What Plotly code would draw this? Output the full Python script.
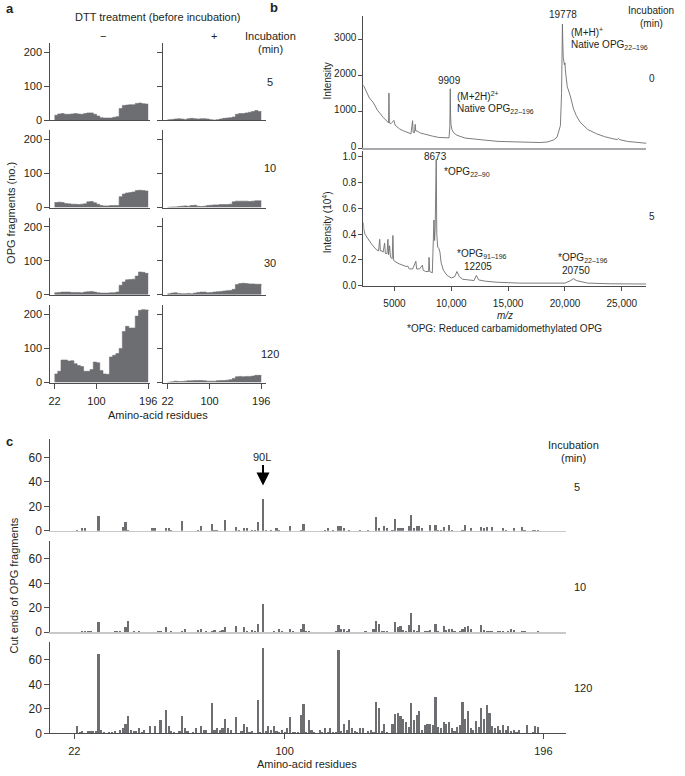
import plotly.graph_objects as go

W, H = 685, 776
FONT = "Liberation Sans, Arial, Helvetica, sans-serif"
TXT = "#231f20"
FILL = "#6d6e71"
AX = "#4d4d4f"

# ---------------- Panel a data (OPG fragments, step profile) ----------------
a_res = [22, 28, 34, 40, 46, 52, 58, 64, 70, 76, 82, 88, 94, 100, 106,
         112, 118, 124, 130, 136, 142, 148, 154, 160, 166, 172, 178, 184, 190, 196]
a_minus_5 = [15, 19, 20, 18, 18, 19, 20, 19, 18, 20, 22, 22, 18, 13, 8,
             7, 7, 7, 9, 11, 35, 44, 45, 46, 46, 50, 51, 49, 48, 48]
a_plus_5 = [2, 3, 4, 5, 4, 3, 5, 6, 5, 4, 5, 5, 4, 2, 1,
            2, 4, 6, 7, 8, 10, 18, 20, 20, 22, 24, 26, 29, 26, 25]
a_minus_10 = [15, 16, 15, 12, 11, 10, 10, 9, 10, 11, 17, 18, 14, 10, 6,
              5, 5, 6, 6, 6, 32, 40, 43, 44, 46, 50, 51, 50, 49, 49]
a_plus_10 = [1, 2, 2, 3, 4, 5, 4, 6, 7, 4, 3, 4, 6, 7, 8,
             8, 9, 9, 9, 10, 17, 19, 19, 19, 19, 18, 19, 20, 20, 20]
a_minus_30 = [6, 7, 8, 8, 8, 7, 7, 7, 6, 8, 9, 10, 8, 6, 5,
              5, 5, 6, 6, 8, 28, 38, 44, 45, 46, 55, 67, 66, 63, 62]
a_plus_30 = [3, 5, 6, 4, 3, 3, 4, 3, 5, 7, 8, 8, 6, 7, 8,
             9, 10, 11, 12, 13, 16, 30, 33, 34, 33, 32, 32, 31, 31, 28]
a_minus_120 = [25, 33, 66, 66, 63, 64, 55, 50, 47, 33, 33, 38, 60, 58, 35,
               25, 24, 75, 80, 85, 100, 150, 165, 160, 160, 195, 212, 214, 213, 210]
a_plus_120 = [1, 2, 4, 3, 3, 4, 5, 5, 6, 6, 6, 5, 4, 4, 4,
              5, 6, 6, 7, 8, 12, 17, 18, 17, 18, 18, 19, 21, 21, 20]
a_times = ["5", "10", "30", "120"]

# ---------------- Panel b data (MALDI spectra) ----------------
spec0_mz = [2260, 2500, 2800, 3127, 3500, 3994, 4200, 4427, 4480, 4514, 4550, 4700, 4948, 5050,
            5433, 5800, 6100, 6448, 6595, 6640, 6760, 6820, 6870, 7025, 7300, 7700, 8329, 8900,
            9482, 9800, 9870, 9909, 9935, 9970, 10050, 10200, 10500, 11216, 12000, 13000, 14105,
            15000, 16000, 17000, 17800, 18440, 19000, 19305, 19600, 19700, 19760, 19778, 19810,
            19850, 19900, 19950, 20000, 20050, 20200, 20467, 20754, 21000, 21334, 22000, 22780,
            23500, 24222, 24600, 24700, 24800, 25500, 26500, 27170]
spec0_int = [1740, 1560, 1380, 1264, 1050, 855, 790, 720, 700, 1520, 700, 680, 770, 640,
             537, 480, 450, 400, 760, 440, 430, 660, 480, 470, 420, 380, 338, 300,
             283, 290, 600, 1640, 950, 650, 520, 430, 360, 283, 250, 225, 191,
             180, 165, 155, 160, 174, 230, 310, 627, 1500, 3000, 3420, 2900,
             2500, 2350, 2300, 2350, 2100, 1700, 1444, 1082, 900, 720, 520, 400,
             320, 264, 240, 275, 240, 190, 160, 140]

spec5_mz = [2260, 2300, 2400, 2600, 2850, 3100, 3400, 3600, 3700, 3760, 3900, 4000, 4130, 4200,
            4350, 4420, 4480, 4570, 4650, 4800, 4860, 4920, 5000, 5400, 6000, 6200, 6300, 6600,
            6880, 6950, 7200, 7460, 7520, 7750, 8000, 8040, 8100, 8330, 8470, 8530, 8580, 8673,
            8720, 8800, 8900, 9000, 9100, 9300, 9630, 10000, 10300, 10500, 10700, 11000, 12000,
            12205, 12400, 13000, 14000, 16000, 18000, 20000, 20500, 20750, 21000, 22000, 24000, 27170]
spec5_int = [0.49, 0.44, 0.40, 0.37, 0.34, 0.31, 0.28, 0.27, 0.36, 0.27, 0.27, 0.26, 0.33, 0.25,
             0.25, 0.36, 0.24, 0.31, 0.22, 0.21, 0.39, 0.20, 0.19, 0.17, 0.15, 0.15, 0.13, 0.13,
             0.19, 0.13, 0.13, 0.16, 0.12, 0.11, 0.11, 0.22, 0.11, 0.10, 0.51, 0.35, 0.45, 0.98,
             0.40, 0.30, 0.29, 0.26, 0.18, 0.12, 0.08, 0.06, 0.07, 0.11, 0.07, 0.05, 0.04,
             0.08, 0.045, 0.035, 0.027, 0.02, 0.018, 0.02, 0.04, 0.055, 0.04, 0.02, 0.015, 0.013]

mz_ticks = [5000, 10000, 15000, 20000, 25000]
mz_ticktext = ["5000", "10,000", "15,000", "20,000", "25,000"]

# ---------------- Panel c data (cut ends) ----------------
c5_res = [23, 25, 26, 31, 40, 41, 42, 51, 52, 56, 57, 58, 62, 68, 69, 73, 74, 75, 78, 82,
          83, 85, 86, 88, 89, 90, 92, 93, 95, 97, 98, 102, 106, 107, 115, 116, 118, 120, 121, 122,
          124, 128, 131, 134, 135, 137, 138, 140, 141, 142, 143, 144, 146, 147, 148, 149, 150, 151, 154, 156,
          157, 158, 159, 161, 162, 166, 167, 169, 173, 174, 175, 177, 181, 182, 185, 188, 189, 192, 193, 194]
c5_cnt = [1, 2, 2, 12, 3, 7, 1, 2, 2, 2, 2, 1, 8, 1, 4, 6, 1, 1, 9, 3,
          1, 2, 2, 1, 1, 7, 26, 1, 1, 2, 1, 4, 1, 6, 1, 2, 1, 4, 4, 2,
          1, 1, 1, 11, 2, 4, 2, 1, 10, 2, 2, 2, 4, 13, 2, 4, 4, 2, 5, 5,
          1, 1, 3, 5, 1, 1, 5, 2, 3, 2, 3, 3, 2, 1, 2, 3, 1, 1, 1, 1]

c10_res = [25, 26, 27, 28, 31, 37, 38, 39, 41, 42, 44, 46, 53, 54, 56, 58, 62, 63, 68, 69,
           71, 73, 74, 76, 77, 78, 82, 85, 86, 88, 89, 90, 92, 96, 98, 99, 102, 103, 106, 107,
           108, 109, 119, 120, 121, 122, 123, 124, 130, 133, 134, 135, 136, 137, 138, 141, 142, 143, 144, 145,
           146, 147, 148, 149, 150, 152, 153, 154, 156, 157, 159, 160, 161, 162, 163, 165, 166, 167, 168, 169,
           173, 174, 175, 176, 177, 179, 180, 181, 183, 184, 185, 188, 189, 194]
c10_cnt = [1, 1, 1, 1, 8, 1, 1, 1, 4, 9, 1, 1, 1, 1, 4, 1, 1, 3, 2, 3,
           1, 1, 2, 1, 2, 4, 5, 4, 1, 2, 1, 7, 23, 1, 3, 1, 3, 1, 3, 7,
           1, 1, 1, 6, 3, 3, 1, 3, 1, 3, 9, 7, 1, 1, 1, 8, 4, 5, 2, 1,
           6, 16, 2, 1, 6, 1, 1, 2, 7, 1, 5, 2, 3, 3, 1, 1, 3, 4, 5, 3,
           6, 2, 1, 1, 1, 1, 1, 1, 1, 3, 2, 1, 1, 1]

c120_res = [23, 24, 25, 27, 28, 29, 30, 31, 32, 33,
            35, 36, 37, 39, 40, 41, 42, 43, 44, 45,
            46, 47, 48, 50, 52, 54, 56, 57, 58, 59,
            61, 62, 63, 64, 66, 67, 69, 70, 71, 73,
            74, 75, 76, 77, 78, 79, 80, 82, 84, 85,
            86, 87, 88, 90, 91, 92, 93, 94, 95, 96,
            97, 98, 99, 100, 101, 102, 103, 104, 105, 106,
            107, 108, 109, 110, 111, 113, 114, 115, 116, 117,
            118, 119, 120, 121, 122, 123, 124, 125, 126, 127,
            128, 129, 131, 132, 133, 134, 135, 136, 137, 138,
            140, 141, 142, 143, 144, 145, 146, 147, 148, 149,
            150, 151, 152, 153, 154, 155, 156, 157, 158, 159,
            160, 161, 162, 163, 164, 165, 166, 167, 168, 169,
            170, 171, 172, 173, 174, 175, 176, 177, 178, 179,
            180, 181, 182, 183, 184, 185, 186, 187, 190, 192,
            193, 194]
c120_cnt = [6, 1, 2, 2, 2, 2, 2, 65, 3, 1,
            1, 1, 2, 3, 4, 8, 14, 3, 2, 2,
            4, 1, 3, 6, 6, 11, 19, 6, 2, 1,
            2, 14, 4, 2, 1, 4, 6, 3, 3, 25,
            3, 4, 3, 4, 12, 4, 3, 13, 2, 8,
            5, 1, 2, 27, 1, 70, 2, 6, 3, 6,
            2, 1, 3, 1, 4, 13, 1, 1, 1, 15,
            24, 1, 11, 3, 1, 3, 1, 4, 1, 4,
            1, 1, 68, 2, 8, 3, 11, 4, 2, 1,
            4, 4, 2, 3, 1, 26, 21, 2, 8, 1,
            8, 16, 17, 14, 12, 9, 5, 25, 11, 15,
            18, 3, 7, 8, 8, 7, 30, 5, 4, 9,
            8, 9, 4, 2, 5, 7, 26, 12, 18, 4,
            3, 10, 5, 21, 12, 23, 17, 6, 4, 6,
            3, 7, 3, 6, 2, 3, 1, 3, 7, 1,
            6, 5]
c_times = ["5", "10", "120"]
res_ticks = [22, 100, 196]

# ---------------- Figure construction ----------------
fig = go.Figure()
layout = dict(width=W, height=H, margin=dict(l=0, r=0, t=0, b=0), autosize=False,
              paper_bgcolor="white", plot_bgcolor="white", showlegend=False,
              font=dict(family=FONT, size=11, color=TXT))
annotations = []


def X(px):
    return px / W


def Y(py):
    return 1 - py / H


def add_axes(n, xpx, ypx, xr, yr, xkw, ykw):
    s = "" if n == 1 else str(n)
    layout["xaxis" + s] = dict(domain=[X(xpx[0]), X(xpx[1])], range=xr, anchor="y" + s,
                               showgrid=False, zeroline=False, fixedrange=True, **xkw)
    layout["yaxis" + s] = dict(domain=[Y(ypx[1]), Y(ypx[0])], range=yr, anchor="x" + s,
                               showgrid=False, zeroline=False, fixedrange=True, **ykw)
    return "x" + s, "y" + s


def text(px, py, t, size=11, xa="center", ya="middle", angle=0, bold=False):
    annotations.append(dict(x=X(px), y=Y(py), xref="paper", yref="paper",
                            text=("<b>%s</b>" % t) if bold else t,
                            showarrow=False, xanchor=xa, yanchor=ya, textangle=angle,
                            font=dict(family=FONT, size=size, color=TXT)))


# ----- Panel a -----
a_rows_px = [(43.5, 121.5), (131.5, 209.5), (219.5, 297.5), (308, 386)]
a_cols_px = [(49, 150), (163, 268)]
a_cols_rng = [[14.1, 199], [12.8, 205]]
a_series = [(a_minus_5, a_plus_5), (a_minus_10, a_plus_10),
            (a_minus_30, a_plus_30), (a_minus_120, a_plus_120)]
for r in range(4):
    for c in range(2):
        n = r * 2 + c + 1
        bottom = (r == 3)
        xkw = dict(showline=True, linecolor=AX, linewidth=1,
                   ticks="outside" if bottom else "", ticklen=5, tickcolor=AX,
                   tickvals=res_ticks, showticklabels=bottom, ticklabelstandoff=3,
                   tickfont=dict(family=FONT, size=11, color=TXT))
        ykw = dict(showline=True, linecolor=AX, linewidth=1, ticks="outside", ticklen=5,
                   tickcolor=AX, tickvals=[0, 100, 200], showticklabels=(c == 0),
                   tickfont=dict(family=FONT, size=11, color=TXT))
        xa, ya = add_axes(n, a_cols_px[c], a_rows_px[r], a_cols_rng[c], [0, 227], xkw, ykw)
        fig.add_trace(go.Scatter(x=a_res, y=a_series[r][c], mode="lines", line_shape="hv",
                                 fill="tozeroy", fillcolor=FILL, line=dict(color=FILL, width=0.6),
                                 xaxis=xa, yaxis=ya, hoverinfo="skip"))

text(8, 9, "a", size=13, bold=True)
text(158, 17, "DTT treatment (before incubation)")
text(103, 36, "\u2212")
text(215, 36, "+")
text(272, 36, "Incubation")
text(272, 49, "(min)")
for t, yy in zip(a_times, [83, 170, 265, 357]):
    text(272, yy, t)
text(9, 215, "OPG fragments (no.)", angle=-90)
text(158, 419, "Amino-acid residues")

# ----- Panel b -----
b_x_px = (366.7, 654)
b_xr = [2260, 27170]
SPEC = "#6d6e71"
xkw = dict(showline=True, linecolor="#a7a9ac", linewidth=2, ticks="", showticklabels=False)
ykw = dict(showline=True, linecolor=AX, linewidth=1, ticks="outside", ticklen=4, tickcolor=AX,
           tickvals=[0, 1000, 2000, 3000], ticklabelshift=-2,
           tickfont=dict(family=FONT, size=10, color=TXT))
xa, ya = add_axes(9, b_x_px, (16, 149.7), b_xr, [0, 3645], xkw, ykw)
fig.add_trace(go.Scatter(x=spec0_mz, y=spec0_int, mode="lines", line=dict(color=SPEC, width=0.9),
                         xaxis=xa, yaxis=ya, hoverinfo="skip"))
xkw = dict(showline=True, linecolor=AX, linewidth=1, ticks="outside", ticklen=4, tickcolor=AX,
           tickvals=mz_ticks, ticktext=mz_ticktext, ticklabelstandoff=4,
           tickfont=dict(family=FONT, size=10, color=TXT))
ykw = dict(showline=True, linecolor=AX, linewidth=1, ticks="outside", ticklen=4, tickcolor=AX,
           tickvals=[0, 0.2, 0.4, 0.6, 0.8, 1.0], tickformat=".1f",
           tickfont=dict(family=FONT, size=10, color=TXT))
xa, ya = add_axes(10, b_x_px, (152, 288.3), b_xr, [0, 1.048], xkw, ykw)
fig.add_trace(go.Scatter(x=spec5_mz, y=spec5_int, mode="lines", line=dict(color=SPEC, width=0.9),
                         xaxis=xa, yaxis=ya, hoverinfo="skip"))

text(276, 8, "b", size=13, bold=True)
text(659, 11, "Incubation", size=10)
text(659, 24, "(min)", size=10)
text(660, 79, "0", size=10)
text(660, 218, "5", size=10)
text(569, 15, "19778", size=10)
text(575, 32, "(M+H)<sup>+</sup>", size=10, xa="left")
text(575, 45, "Native OPG<sub>22\u2013196</sub>", size=10, xa="left")
text(454, 81, "9909", size=10)
text(460, 97, "(M+2H)<sup>2+</sup>", size=10, xa="left")
text(460, 110, "Native OPG<sub>22\u2013196</sub>", size=10, xa="left")
text(440, 158, "8673", size=10)
text(447, 174, "*OPG<sub>22\u201390</sub>", size=10, xa="left")
text(460, 256, "*OPG<sub>91\u2013196</sub>", size=10, xa="left")
text(483, 269, "12205", size=10)
text(562, 260, "*OPG<sub>22\u2013196</sub>", size=10, xa="left")
text(582, 273, "20750", size=10)
text(330, 82, "Intensity", size=10, angle=-90)
text(330, 224, "Intensity (10<sup>4</sup>)", size=10, angle=-90)
text(510, 318, "<i>m/z</i>", size=10)
text(510, 331, "*OPG: Reduced carbamidomethylated OPG", size=10)

# ----- Panel c -----
c_x_px = (49, 572.7)
c_xr = [13.1, 204.5]
c_rows_px = [(443.2, 535.7), (545.5, 638), (647.5, 740)]
c_series = [(c5_res, c5_cnt), (c10_res, c10_cnt), (c120_res, c120_cnt)]
for i in range(3):
    n = 11 + i
    last = (i == 2)
    if last:
        xkw = dict(showline=True, linecolor=AX, linewidth=1, ticks="outside", ticklen=5, tickcolor=AX,
                   tickvals=res_ticks, ticklabelstandoff=2,
                   tickfont=dict(family=FONT, size=11, color=TXT))
    else:
        xkw = dict(showline=True, linecolor="#c7c8ca", linewidth=1.5, ticks="", showticklabels=False)
    ykw = dict(showline=True, linecolor=AX, linewidth=1, ticks="outside", ticklen=5, tickcolor=AX,
               tickvals=[0, 20, 40, 60], tickfont=dict(family=FONT, size=12, color=TXT))
    xa, ya = add_axes(n, c_x_px, c_rows_px[i], c_xr, [0, 75], xkw, ykw)
    fig.add_trace(go.Bar(x=c_series[i][0], y=c_series[i][1], width=0.8,
                         marker=dict(color=FILL, line=dict(width=0)),
                         xaxis=xa, yaxis=ya, hoverinfo="skip"))
layout["bargap"] = 0

text(8, 446, "c", size=13, bold=True)
text(580, 449, "Incubation")
text(580, 462, "(min)")
for t, yy in zip(c_times, [491, 592, 694]):
    text(578, yy, t, xa="left")
text(12, 591, "Cut ends of OPG fragments", angle=-90)
text(310, 770.5, "Amino-acid residues")
text(264, 461, "90L")
annotations.append(dict(x=92, y=Y(490), xref="x11", yref="paper", ax=0, ay=-22, text="",
                        showarrow=True, arrowhead=2, arrowsize=1.3, arrowwidth=2, arrowcolor="black",
                        standoff=0))

layout["annotations"] = annotations
fig.update_layout(**layout)
fig.write_html("out.html", config={"displayModeBar": False, "staticPlot": True},
               post_script="document.body.style.margin='0';document.body.style.overflow='hidden';")
